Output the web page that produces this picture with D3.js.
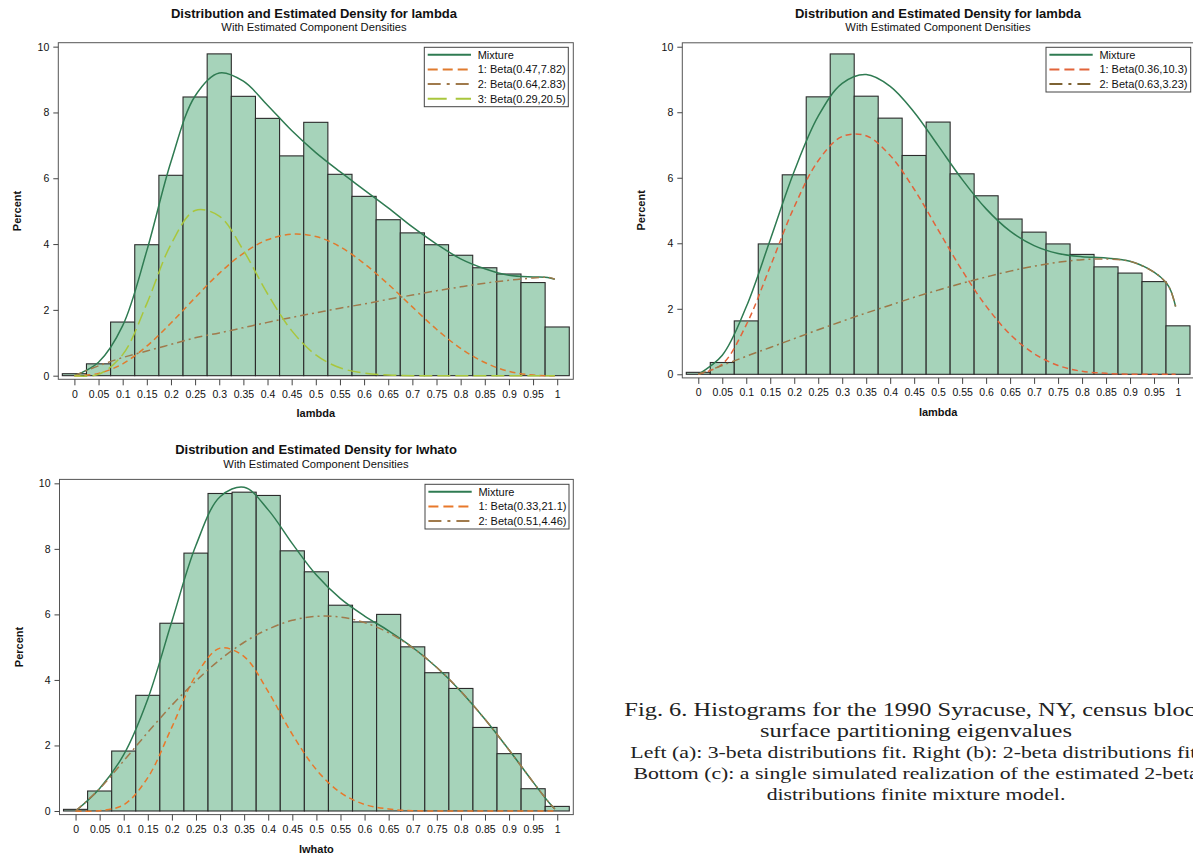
<!DOCTYPE html>
<html>
<head>
<meta charset="utf-8">
<script src="https://cdn.jsdelivr.net/npm/d3@7/dist/d3.min.js"></script>
<style>
  html, body { margin: 0; padding: 0; background: #ffffff; }
  svg { display: block; }
</style>
</head>
<body>
<svg id="fig" width="1193" height="857"></svg>
<script>
// ---------- data ----------
// histogram bins are 0.05 wide, centred on these midpoints
const binMids = [0, 0.05, 0.1, 0.15, 0.2, 0.25, 0.3, 0.35, 0.4, 0.45, 0.5,
                 0.55, 0.6, 0.65, 0.7, 0.75, 0.8, 0.85, 0.9, 0.95, 1];
const lambdaPct = [0.06, 0.36, 1.63, 3.98, 6.09, 8.47, 9.78, 8.49, 7.82, 6.68, 7.70,
                   6.12, 5.45, 4.74, 4.34, 3.98, 3.66, 3.28, 3.09, 2.83, 1.48];
const lwhatoPct = [0.05, 0.61, 1.83, 3.53, 5.73, 7.87, 9.69, 9.73, 9.63, 7.94, 7.30,
                   6.28, 5.77, 6.00, 5.01, 4.22, 3.74, 2.55, 1.75, 0.68, 0.14];

const xTicks = [0, 0.05, 0.1, 0.15, 0.2, 0.25, 0.3, 0.35, 0.4, 0.45, 0.5,
                0.55, 0.6, 0.65, 0.7, 0.75, 0.8, 0.85, 0.9, 0.95, 1];
const xTickLabels = ["0", "0.05", "0.1", "0.15", "0.2", "0.25", "0.3", "0.35", "0.4", "0.45", "0.5",
                     "0.55", "0.6", "0.65", "0.7", "0.75", "0.8", "0.85", "0.9", "0.95", "1"];
const yTicks = [0, 2, 4, 6, 8, 10];
const yTickLabels = ["0", "2", "4", "6", "8", "10"];

// abscissae at which the fitted densities (in percent per bin) are given
const densX = [0, 0.05, 0.1, 0.15, 0.2, 0.25, 0.3, 0.35, 0.4, 0.45, 0.5,
               0.55, 0.6, 0.65, 0.7, 0.75, 0.8, 0.85, 0.9, 0.95, 0.975, 0.985, 0.995];

// (a) lambda, three beta components
const aMixture = [0, 0.41, 1.52, 3.80, 6.50, 8.50, 9.20, 8.95, 8.22, 7.45, 6.78,
                  6.20, 5.65, 5.10, 4.52, 4.00, 3.55, 3.25, 3.05, 3.00, 2.99, 2.97, 2.93];
const aComp1 = [0, 0.07, 0.36, 0.90, 1.60, 2.37, 3.11, 3.72, 4.13, 4.30, 4.23,
                3.92, 3.41, 2.78, 2.09, 1.41, 0.83, 0.40, 0.13, 0.02, 0, 0, 0];
const aComp2 = [0, 0.30, 0.55, 0.75, 0.95, 1.15, 1.30, 1.46, 1.62, 1.77, 1.91,
                2.05, 2.18, 2.32, 2.45, 2.58, 2.70, 2.81, 2.90, 2.97, 2.99, 2.98, 2.93];
const aComp3 = [0, 0.04, 0.64, 2.19, 3.99, 5.02, 4.85, 3.81, 2.49, 1.37, 0.63,
                0.24, 0.08, 0.02, 0, 0, 0, 0, 0, 0, 0, 0, 0];

// (b) lambda, two beta components
const bMixture = [0, 0.58, 2.06, 4.11, 6.20, 7.88, 8.88, 9.15, 8.79, 8.00, 6.98,
                  5.95, 5.05, 4.37, 3.93, 3.69, 3.59, 3.55, 3.45, 3.12, 2.80, 2.55, 2.07];
const bComp1 = [0, 0.31, 1.51, 3.29, 5.11, 6.52, 7.26, 7.28, 6.68, 5.65, 4.41,
                3.17, 2.08, 1.22, 0.63, 0.27, 0.09, 0.03, 0, 0, 0, 0, 0];
const bComp2 = [0, 0.27, 0.55, 0.82, 1.09, 1.36, 1.62, 1.87, 2.11, 2.35, 2.57,
                2.78, 2.97, 3.15, 3.30, 3.42, 3.50, 3.52, 3.45, 3.12, 2.80, 2.55, 2.07];

// (c) lwhato, simulated realisation, two beta components
const cMixture = [0, 0.69, 1.72, 3.42, 5.79, 8.11, 9.59, 9.88, 9.19, 8.16, 7.20,
                  6.48, 5.95, 5.50, 4.99, 4.38, 3.65, 2.80, 1.86, 0.88, 0.40, 0.22, 0.06];
const cComp1 = [0, 0.01, 0.19, 1.02, 2.56, 4.14, 4.97, 4.71, 3.64, 2.34, 1.26,
                0.56, 0.20, 0.06, 0.01, 0, 0, 0, 0, 0, 0, 0, 0];
const cComp2 = [0, 0.68, 1.53, 2.40, 3.23, 3.97, 4.62, 5.15, 5.55, 5.82, 5.94,
                5.92, 5.75, 5.44, 4.98, 4.38, 3.65, 2.80, 1.86, 0.88, 0.40, 0.22, 0.06];

const titleText = "Distribution and Estimated Density for ";
const subtitleText = "With Estimated Component Densities";
const yLabelText = "Percent";
const aLegend = ["Mixture", "1: Beta(0.47,7.82)", "2: Beta(0.64,2.83)", "3: Beta(0.29,20.5)"];
const bLegend = ["Mixture", "1: Beta(0.36,10.3)", "2: Beta(0.63,3.23)"];
const cLegend = ["Mixture", "1: Beta(0.33,21.1)", "2: Beta(0.51,4.46)"];

const captionLines = [
  "Fig. 6. Histograms for the 1990 Syracuse, NY, census block",
  "surface partitioning eigenvalues",
  "Left (a): 3-beta distributions fit. Right (b): 2-beta distributions fit.",
  "Bottom (c): a single simulated realization of the estimated 2-beta",
  "distributions finite mixture model."
];

// ---------- styles ----------
const BAR_FILL = "#a6d3ba";
const BAR_STROKE = "#2b2b2b";
const MIX_COLOR = "#2f7b52";
const C2_COLOR = "#a07a4c";
const C3_COLOR = "#a9c63c";
const SANS = "'Liberation Sans', Arial, sans-serif";

const styleMix  = { color: MIX_COLOR, dash: null,        legendDash: null };
const styleC2   = { color: C2_COLOR,  dash: "8,4,2,4",   legendDash: "13,6,3,6" };
const styleC3   = { color: C3_COLOR,  dash: "13,5",      legendDash: "19,9" };

const svg = d3.select("#fig");

const panels = [
  {
    frame: { left: 58.3, right: 573.3, top: 42.7, bottom: 379.3 },
    titleX: 314, xLabel: "lambda", hist: lambdaPct,
    curves: [
      { values: aMixture, style: styleMix },
      { values: aComp1,   style: { color: "#e07b2e", dash: "6,4", legendDash: "10,5" } },
      { values: aComp2,   style: styleC2 },
      { values: aComp3,   style: styleC3 }
    ],
    legend: { left: 424.3, top: 47.3, width: 144, labels: aLegend }
  },
  {
    frame: { left: 682.3, right: 1194, top: 42.8, bottom: 377.9 },
    titleX: 938, xLabel: "lambda", hist: lambdaPct,
    curves: [
      { values: bMixture, style: styleMix },
      { values: bComp1,   style: { color: "#e2643a", dash: "6,4", legendDash: "10,5" } },
      { values: bComp2,   style: { color: "#9c7848", dash: "8,4,2,4", legendDash: "13,6,3,6", legendColor: "#7d6232" } }
    ],
    legend: { left: 1046, top: 47.3, width: 144.7, labels: bLegend }
  },
  {
    frame: { left: 59.5, right: 573.3, top: 479.4, bottom: 814.6 },
    titleX: 316, xLabel: "lwhato", hist: lwhatoPct,
    curves: [
      { values: cMixture, style: styleMix },
      { values: cComp1,   style: { color: "#e8782a", dash: "6,4", legendDash: "10,5" } },
      { values: cComp2,   style: styleC2 }
    ],
    legend: { left: 425, top: 484.3, width: 144, labels: cLegend }
  }
];

panels.forEach((p, pi) => {
  const f = p.frame;
  const g = svg.append("g");
  const x = d3.scaleLinear().domain([-1 / 30, 1 + 1 / 30]).range([f.left, f.right]);
  const y = d3.scaleLinear().domain([-0.11, 10.12]).range([f.bottom, f.top]);

  // titles
  g.append("text")
    .attr("x", p.titleX).attr("y", f.top - 25)
    .attr("text-anchor", "middle")
    .style("font-family", SANS).style("font-size", "13px").style("font-weight", "bold")
    .attr("fill", "#111")
    .text(titleText + p.xLabel);
  g.append("text")
    .attr("x", p.titleX).attr("y", f.top - 11.5)
    .attr("text-anchor", "middle")
    .style("font-family", SANS).style("font-size", "11.2px")
    .attr("fill", "#111")
    .text(subtitleText);

  // plot wall
  g.append("rect")
    .attr("x", f.left).attr("y", f.top)
    .attr("width", f.right - f.left).attr("height", f.bottom - f.top)
    .attr("fill", "#ffffff");

  const clipId = "clip" + pi;
  g.append("clipPath").attr("id", clipId)
    .append("rect")
    .attr("x", f.left).attr("y", f.top)
    .attr("width", f.right - f.left).attr("height", f.bottom - f.top);

  const plot = g.append("g").attr("clip-path", `url(#${clipId})`);

  // histogram bars
  plot.selectAll("rect.bar")
    .data(binMids.map((m, i) => ({ m, v: p.hist[i] })))
    .join("rect")
    .attr("class", "bar")
    .attr("x", d => x(d.m - 0.025))
    .attr("width", d => x(d.m + 0.025) - x(d.m - 0.025))
    .attr("y", d => y(d.v))
    .attr("height", d => y(0) - y(d.v))
    .attr("fill", BAR_FILL)
    .attr("stroke", BAR_STROKE)
    .attr("stroke-width", 1.1);

  // fitted densities
  const line = d3.line()
    .x((d, i) => x(densX[i]))
    .y(d => y(d))
    .curve(d3.curveCatmullRom.alpha(0.5));

  p.curves.forEach(c => {
    plot.append("path")
      .attr("d", line(c.values))
      .attr("fill", "none")
      .attr("stroke", c.style.color)
      .attr("stroke-width", 1.5)
      .attr("stroke-dasharray", c.style.dash)
      .attr("stroke-linejoin", "round");
  });

  // frame
  g.append("rect")
    .attr("x", f.left).attr("y", f.top)
    .attr("width", f.right - f.left).attr("height", f.bottom - f.top)
    .attr("fill", "none").attr("stroke", "#555").attr("stroke-width", 1);

  // axes
  const yAxis = d3.axisLeft(y).tickValues(yTicks)
    .tickFormat((d, i) => yTickLabels[i]).tickSize(5).tickPadding(4);
  const ya = g.append("g").attr("transform", `translate(${f.left},0)`).call(yAxis);
  const xAxis = d3.axisBottom(x).tickValues(xTicks)
    .tickFormat((d, i) => xTickLabels[i]).tickSize(6).tickPadding(5);
  const xa = g.append("g").attr("transform", `translate(0,${f.bottom})`).call(xAxis);
  [ya, xa].forEach(a => {
    a.select(".domain").remove();
    a.selectAll(".tick line").attr("stroke", "#444");
    a.selectAll(".tick text")
      .style("font-family", SANS).style("font-size", "10.5px").attr("fill", "#111");
  });

  // axis titles
  g.append("text")
    .attr("x", (f.left + f.right) / 2).attr("y", f.bottom + 38)
    .attr("text-anchor", "middle")
    .style("font-family", SANS).style("font-size", "11px").style("font-weight", "bold")
    .attr("fill", "#111")
    .text(p.xLabel);
  g.append("text")
    .attr("transform", `translate(${f.left - 37},${(f.top + f.bottom) / 2}) rotate(-90)`)
    .attr("text-anchor", "middle")
    .style("font-family", SANS).style("font-size", "11px").style("font-weight", "bold")
    .attr("fill", "#111")
    .text(yLabelText);

  // legend
  const L = p.legend;
  const rowH = 14.7;
  const lg = g.append("g").attr("transform", `translate(${L.left},${L.top})`);
  lg.append("rect")
    .attr("width", L.width).attr("height", rowH * L.labels.length + 0.6)
    .attr("fill", "#ffffff").attr("stroke", "#444").attr("stroke-width", 1);
  L.labels.forEach((lab, i) => {
    const st = p.curves[i].style;
    const cy = 7.4 + i * rowH;
    lg.append("line")
      .attr("x1", 3.4).attr("x2", 46.7).attr("y1", cy).attr("y2", cy)
      .attr("stroke", st.legendColor || st.color).attr("stroke-width", 2)
      .attr("stroke-dasharray", st.legendDash);
    lg.append("text")
      .attr("x", 53.4).attr("y", cy + 3.9)
      .style("font-family", SANS).style("font-size", "11px")
      .attr("fill", "#111")
      .text(lab);
  });
});

// figure caption (wide serif, runs past the right edge of the page)
const cap = svg.append("g")
  .attr("transform", "translate(916,0) scale(1.32,1)")
  .style("font-family", "'Liberation Serif', 'Times New Roman', serif")
  .attr("fill", "#222");
const capBaselines = [716, 737, 758, 779, 800];
captionLines.forEach((t, i) => {
  cap.append("text")
    .attr("x", 0).attr("y", capBaselines[i])
    .attr("text-anchor", "middle")
    .style("font-size", i < 2 ? "18.5px" : "16.5px")
    .text(t);
});
</script>
</body>
</html>
